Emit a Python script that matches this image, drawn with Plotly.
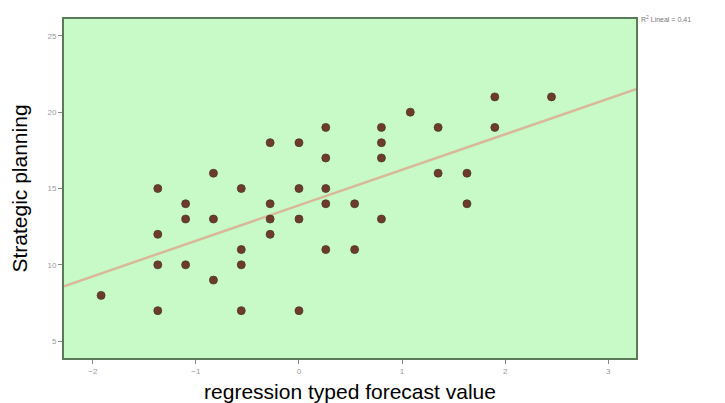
import plotly.graph_objects as go

# Data
forecast = [-1.92,
            -1.37, -0.56, 0.0,
            -0.83,
            -1.37, -1.10, -0.56,
            -0.56, 0.26, 0.54,
            -1.37, -0.28,
            -1.10, -0.83, -0.28, 0.0, 0.80,
            -1.10, -0.28, 0.26, 0.54, 1.63,
            -1.37, -0.56, 0.0, 0.26,
            -0.83, 1.35, 1.63,
            0.26, 0.80,
            -0.28, 0.0, 0.80,
            0.26, 0.80, 1.35, 1.90,
            1.08,
            1.90, 2.45]
planning = [8,
            7, 7, 7,
            9,
            10, 10, 10,
            11, 11, 11,
            12, 12,
            13, 13, 13, 13, 13,
            14, 14, 14, 14, 14,
            15, 15, 15, 15,
            16, 16, 16,
            17, 17,
            18, 18, 18,
            19, 19, 19, 19,
            20,
            21, 21]
fit_x = [-2.28, 3.27]
fit_y = [8.6, 21.5]
x_ticks = [-2, -1, 0, 1, 2, 3]
y_ticks = [5, 10, 15, 20, 25]

fig = go.Figure()
fig.add_trace(go.Scatter(x=fit_x, y=fit_y, mode="lines",
                         line=dict(color="#d9b89a", width=2.5),
                         hoverinfo="skip", showlegend=False))
fig.add_trace(go.Scatter(x=forecast, y=planning, mode="markers",
                         marker=dict(size=8, color="#6e3a2c",
                                     line=dict(color="#4a3a2a", width=0.8)),
                         showlegend=False))

fig.add_annotation(x=1.0, y=1.0, xref="paper", yref="paper",
                   xanchor="left", yanchor="middle", xshift=3, yshift=0,
                   text="R<sup>2</sup> Lineal = 0.41", showarrow=False,
                   font=dict(family="Arial", size=7, color="#777777"))

fig.update_layout(
    width=725, height=403,
    margin=dict(l=56, r=97, t=9, b=53),
    paper_bgcolor="white",
    plot_bgcolor="#c8fac8",
    font=dict(family="Arial"),
    xaxis=dict(range=[-2.28, 3.27], tickvals=x_ticks, showgrid=False,
               zeroline=False, ticks="outside", ticklen=4, tickcolor="#888",
               tickfont=dict(size=8, color="#999"),
               showline=True, linecolor="#5a7a5a", linewidth=2, mirror=True,
               title=dict(text="regression typed forecast value",
                          font=dict(size=21, color="black"), standoff=10)),
    yaxis=dict(range=[3.9, 26.1], tickvals=y_ticks, showgrid=False,
               zeroline=False, ticks="outside", ticklen=4, tickcolor="#888",
               tickfont=dict(size=8, color="#999"),
               showline=True, linecolor="#5a7a5a", linewidth=2, mirror=True,
               title=dict(text="Strategic planning",
                          font=dict(size=21, color="black"), standoff=15)),
)

fig.write_html("out.html")
